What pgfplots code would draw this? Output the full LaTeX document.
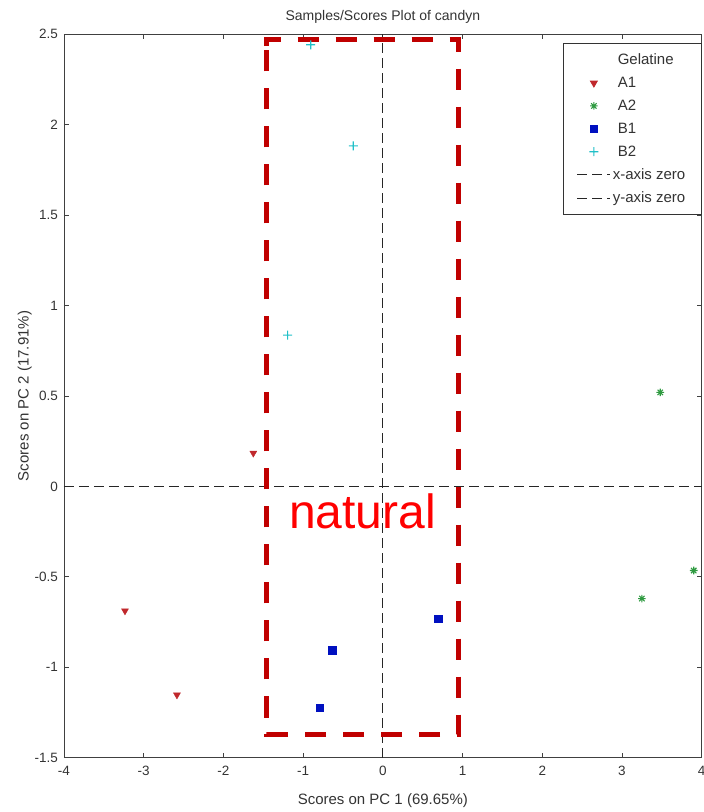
\documentclass[border=0pt]{standalone}
\usepackage{pgfplots}
\pgfplotsset{compat=1.18}
\usepackage{fontspec}
\setmainfont{Liberation Sans}
\definecolor{aone}{HTML}{C0282C}
\definecolor{atwo}{HTML}{2E9A40}
\definecolor{bone}{HTML}{0010C0}
\definecolor{btwo}{HTML}{20C0C8}
\definecolor{boxred}{HTML}{C00000}
\definecolor{txt}{HTML}{333333}
\pgfdeclareplotmark{mstar}{%
  \pgfpathmoveto{\pgfqpoint{-\pgfplotmarksize}{0pt}}\pgfpathlineto{\pgfqpoint{\pgfplotmarksize}{0pt}}%
  \pgfpathmoveto{\pgfqpoint{0pt}{-\pgfplotmarksize}}\pgfpathlineto{\pgfqpoint{0pt}{\pgfplotmarksize}}%
  \pgfpathmoveto{\pgfqpoint{-0.707\pgfplotmarksize}{-0.707\pgfplotmarksize}}\pgfpathlineto{\pgfqpoint{0.707\pgfplotmarksize}{0.707\pgfplotmarksize}}%
  \pgfpathmoveto{\pgfqpoint{-0.707\pgfplotmarksize}{0.707\pgfplotmarksize}}\pgfpathlineto{\pgfqpoint{0.707\pgfplotmarksize}{-0.707\pgfplotmarksize}}%
  \pgfusepathqstroke}
\pgfdeclareplotmark{fplus}{%
  \pgfpathrectangle{\pgfqpoint{-\pgfplotmarksize}{-0.55pt}}{\pgfqpoint{2\pgfplotmarksize}{1.1pt}}%
  \pgfpathrectangle{\pgfqpoint{-0.55pt}{-\pgfplotmarksize}}{\pgfqpoint{1.1pt}{2\pgfplotmarksize}}%
  \pgfusepathqfill}
\pgfplotsset{
  marklegend/.style={legend image code/.code={\draw[mark repeat=2,mark phase=2,##1] plot coordinates {(0pt,0pt) (16.5pt,0pt) (33pt,0pt)};}},
  linelegend/.style={legend image code/.code={\draw[##1] (0pt,0pt) -- (33pt,0pt);}},
}
\begin{document}
\begin{tikzpicture}
\useasboundingbox (-64pt,-54.3pt) rectangle (640pt,757.7pt);
\begin{axis}[
  scale only axis,
  width=637.7pt, height=723.4pt,
  xmin=-4, xmax=4, ymin=-1.5, ymax=2.5,
  xtick={-4,-3,...,4}, ytick={-1.5,-1,...,2.5},
  tick align=inside, tick pos=both,
  major tick length=5pt,
  axis line style={black!75, line width=0.9pt},
  tick style={black!75, line width=0.8pt},
  ticklabel style={font=\fontsize{13.5}{13.5}\selectfont, text=txt},
  xticklabel style={yshift=-5pt},
  yticklabel style={xshift=-2.5pt, /pgf/number format/fixed},
  /pgf/number format/assume math mode=true,
  title={Samples/Scores Plot of candyn},
  title style={font=\fontsize{14}{14}\selectfont, text=txt, yshift=1pt},
  xlabel={Scores on PC 1 (69.65\%)},
  ylabel={Scores on PC 2 (17.91\%)},
  label style={font=\fontsize{15}{15}\selectfont, text=txt},
  xlabel style={yshift=-11pt},
  ylabel style={yshift=-4pt},
  legend style={at={(1.0,0.9875)}, anchor=north east, draw=black!80, line width=0.8pt,
    font=\fontsize{15}{15}\selectfont, text=txt, row sep=7pt,
    inner xsep=14pt, inner ysep=8pt},
  legend cell align=left,
  clip=false,
]
\addlegendimage{empty legend}
\addlegendentry{\hspace*{5pt}Gelatine}
\addplot[aone, only marks, mark=triangle*, mark options={rotate=180, fill=aone, draw=aone}, mark size=4pt, marklegend]
  coordinates {(-1.625,0.184) (-3.235,-0.688) (-2.583,-1.153)};
\addlegendentry{\hspace*{5pt}A1}
\addplot[atwo, only marks, mark=mstar, mark options={draw=atwo, line width=1.1pt}, mark size=3.8pt, marklegend]
  coordinates {(3.48,0.52) (3.25,-0.62) (3.90,-0.465)};
\addlegendentry{\hspace*{5pt}A2}
\addplot[bone, only marks, mark=square*, mark options={fill=bone, draw=bone}, mark size=3.8pt, marklegend]
  coordinates {(0.695,-0.732) (-0.634,-0.904) (-0.792,-1.223)};
\addlegendentry{\hspace*{5pt}B1}
\addplot[btwo, only marks, mark=fplus, mark options={fill=btwo, draw=none}, mark size=4.5pt, marklegend]
  coordinates {(-0.905,2.442) (-0.371,1.883) (-1.194,0.837)};
\addlegendentry{\hspace*{5pt}B2}
\addplot[black!85, line width=0.8pt, dash pattern=on 10pt off 5pt, linelegend] coordinates {(-4,0) (4,0)};
\addlegendentry{x-axis zero}
\addplot[black!85, line width=0.8pt, dash pattern=on 10pt off 5pt, linelegend] coordinates {(0,-1.5) (0,2.5)};
\addlegendentry{y-axis zero}
\addplot[boxred, line width=5.2pt, dash pattern=on 21.5pt off 16.5pt, forget plot]
  coordinates {(-1.457,2.434) (-1.457,2.473) (0.947,2.473) (0.947,-1.370) (-1.457,-1.370) (-1.457,2.434)};
\node[text=red, font=\fontsize{48}{48}\selectfont, anchor=base] at (axis cs:-0.255,-0.231) {natural};
\end{axis}
\end{tikzpicture}
\end{document}
